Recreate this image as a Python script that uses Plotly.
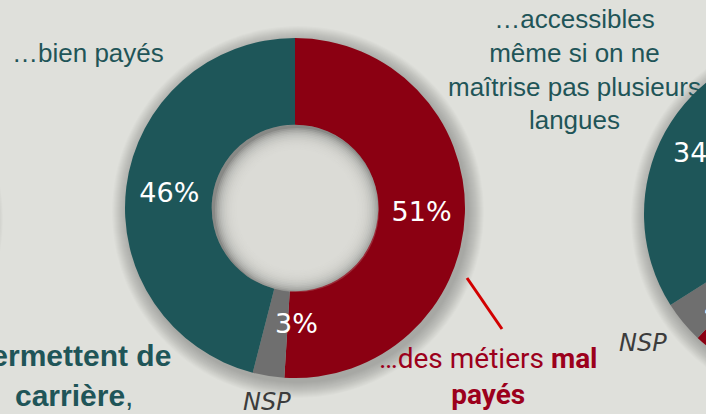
import plotly.graph_objects as go

# ---- data ----
main_labels = ["des métiers mal payés", "NSP", "bien payés"]
main_values = [51, 3, 46]
right_labels = ["pas accessibles", "NSP", "accessibles"]
right_values = [62, 4, 34]
slice_colors = ["#8b0012", "#6f6f6f", "#1e5659"]

W, H = 1000, 414
BG = "#dfe0db"

def dom(cx, cy, r):
    return dict(x=[(cx - r) / W, (cx + r) / W], y=[(H - cy - r) / H, (H - cy + r) / H])

MC = (295, 208); RC = (814, 214); R = 170; HOLE = 0.49

fig = go.Figure()
fig.add_trace(go.Pie(
    labels=main_labels, values=main_values, sort=False, direction="clockwise",
    hole=HOLE, domain=dom(*MC, R), marker=dict(colors=slice_colors, line=dict(width=0)),
    texttemplate="%{value}%", textposition=["inside", "none", "inside"],
    insidetextorientation="horizontal",
    textfont=dict(family="DejaVu Sans", size=27, color="white"),
    showlegend=False, hoverinfo="skip"))
fig.add_trace(go.Pie(
    labels=right_labels, values=right_values, sort=False, direction="clockwise",
    hole=HOLE, domain=dom(*RC, R), marker=dict(colors=slice_colors, line=dict(width=0)),
    texttemplate="%{value}%", textposition=["none", "none", "inside"],
    insidetextorientation="horizontal",
    textfont=dict(family="DejaVu Sans", size=27, color="white"),
    showlegend=False, hoverinfo="skip"))

shapes = []
# soft outer shadows
for (cx, cy) in [MC, RC, (-186, 215)]:
    for k in range(16):
        rr = R + 16 - k * 1
        shapes.append(dict(type="circle", xref="x", yref="y", layer="below",
                           x0=cx + 3 - rr, x1=cx + 3 + rr, y0=cy + 4 - rr, y1=cy + 4 + rr,
                           fillcolor="rgba(0,0,0,0.016)", line=dict(width=0)))
# inner hole shading
for (cx, cy) in [MC, RC]:
    hr = R * HOLE
    shapes.append(dict(type="circle", xref="x", yref="y", layer="above",
                       x0=cx - hr, x1=cx + hr, y0=cy - hr, y1=cy + hr,
                       fillcolor="rgba(0,0,0,0.18)", line=dict(width=0)))
    for k in range(14):
        r2 = hr * (0.985 - k * 0.02)
        shapes.append(dict(type="circle", xref="x", yref="y", layer="above",
                           x0=cx - r2 + 2, x1=cx + r2 + 2, y0=cy - r2 + 2, y1=cy + r2 + 2,
                           fillcolor="rgba(223,224,219,0.2)", line=dict(width=0)))
# callout line
shapes.append(dict(type="line", xref="x", yref="y", x0=467, y0=278, x1=502, y1=329,
                   line=dict(color="#d20000", width=3)))

teal = "#1f5558"
red_txt = "#9c001c"
ann = []
def A(x, y, text, size, color, family="Liberation Sans", xanchor="center", align="center"):
    ann.append(dict(x=x, y=y, xref="x", yref="y", text=text, showarrow=False,
                    xanchor=xanchor, yanchor="middle", align=align,
                    font=dict(family=family, size=size, color=color)))

A(10, 53, "…bien payés", 26, teal, xanchor="left")
A(574, 69, "…accessibles<br>même si on ne<br>maîtrise pas plusieurs<br>langues", 26, teal)
A(173, 355, "<b>…permettent de</b>", 30, teal, xanchor="right")
A(13, 395, "<b>carrière</b>,", 30, teal, xanchor="left", align="left")
A(488, 376, "…des métiers <b>mal</b><br><b>payés</b>", 28, red_txt, family="Roboto")
A(296, 323, "3%", 27, "white", family="DejaVu Sans")
A(725, 308, "4%", 27, "white", family="DejaVu Sans")
A(267, 402, "<i>NSP</i>", 24, "#3c3c3c", family="DejaVu Sans")
A(643, 343, "<i>NSP</i>", 24, "#3c3c3c", family="DejaVu Sans")

fig.update_layout(
    width=W, height=H, margin=dict(l=0, r=0, t=0, b=0),
    paper_bgcolor=BG, plot_bgcolor=BG,
    xaxis=dict(range=[0, W], visible=False, fixedrange=True),
    yaxis=dict(range=[H, 0], visible=False, fixedrange=True),
    shapes=shapes, annotations=ann, showlegend=False)

fig.write_html("out.html", post_script=(
    "document.documentElement.style.overflow='hidden';"
    "document.body.style.overflow='hidden';document.body.style.margin='0';"
    f"document.body.style.background='{BG}';"))
